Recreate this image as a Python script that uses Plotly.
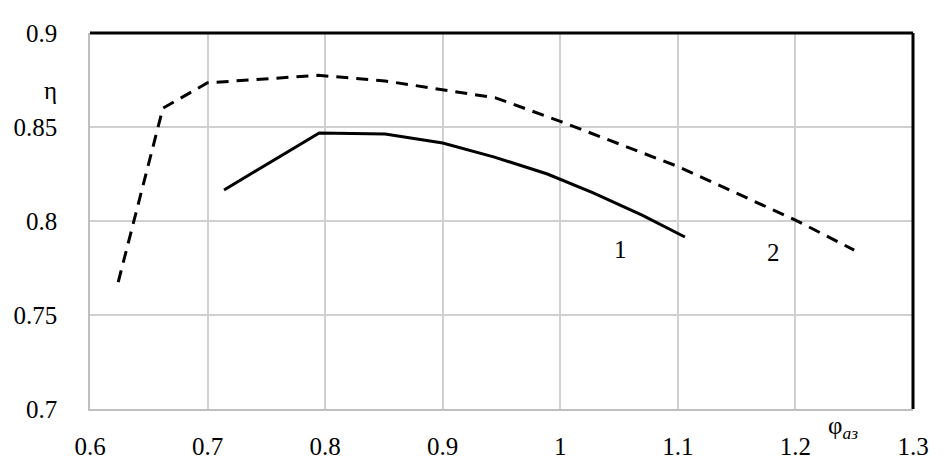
import plotly.graph_objects as go

# curve 1 (solid) and curve 2 (dashed)
phi_1 = [0.714, 0.795, 0.851, 0.900, 0.944, 0.989, 1.028, 1.070, 1.106]
eta_1 = [0.8165, 0.8468, 0.8463, 0.8415, 0.8340, 0.8250, 0.8150, 0.8030, 0.7915]

phi_2 = [0.624, 0.662, 0.700, 0.794, 0.851, 0.900, 0.945, 1.000, 1.050, 1.100, 1.200, 1.250]
eta_2 = [0.7675, 0.8600, 0.8735, 0.8775, 0.8745, 0.8700, 0.8655, 0.8530, 0.8410, 0.8290, 0.8005, 0.7845]

curve_labels = ["1", "2"]
label_pos = [(1.051, 0.7846), (1.181, 0.7835)]

font_family = "Liberation Serif"
serif = dict(family=font_family, size=25, color='black')

fig = go.Figure()
fig.add_trace(go.Scatter(x=phi_1, y=eta_1, mode='lines', name='1',
                         line=dict(color='black', width=3)))
fig.add_trace(go.Scatter(x=phi_2, y=eta_2, mode='lines', name='2',
                         line=dict(color='black', width=3, dash='12px,8px')))

for txt, (lx, ly) in zip(curve_labels, label_pos):
    fig.add_annotation(x=lx, y=ly, text=txt, showarrow=False, font=serif)

# axis names
fig.add_annotation(xref='paper', yref='paper', x=-0.058, y=0.888, text='η', showarrow=False,
                   font=dict(family=font_family, size=25, color='black'))
fig.add_annotation(xref='paper', yref='paper', x=0.936, y=-0.095, text='φ<sub><i>аз</i></sub>',
                   showarrow=False, font=dict(family=font_family, size=25, color='black'))

# black frame on top and right only
fig.add_shape(type='line', xref='paper', yref='paper', x0=0, y0=1, x1=1, y1=1,
              line=dict(color='black', width=3))
fig.add_shape(type='line', xref='paper', yref='paper', x0=1, y0=1, x1=1, y1=0,
              line=dict(color='black', width=3))

fig.update_xaxes(range=[0.6, 1.3], tickvals=[0.6, 0.7, 0.8, 0.9, 1.0, 1.1, 1.2, 1.3],
                 ticktext=['0.6', '0.7', '0.8', '0.9', '1', '1.1', '1.2', '1.3'],
                 showgrid=True, gridcolor='#d0d0d0', gridwidth=1.5,
                 showline=True, linecolor='#bfbfbf', linewidth=1.5,
                 zeroline=False, ticks='', ticklabelstandoff=14, automargin=False,
                 tickfont=serif)
fig.update_yaxes(range=[0.7, 0.9], tickvals=[0.7, 0.75, 0.8, 0.85, 0.9],
                 ticktext=['0.7', '0.75', '0.8', '0.85', '0.9'],
                 showgrid=True, gridcolor='#d0d0d0', gridwidth=1.5,
                 showline=True, linecolor='#bfbfbf', linewidth=1.5,
                 zeroline=False, ticks='', ticklabelstandoff=26, automargin=False,
                 tickfont=serif)

# page body has an 8px margin, so the figure is a bit smaller than the window
fig.update_layout(width=934, height=457, showlegend=False,
                  font=serif,
                  plot_bgcolor='white', paper_bgcolor='white',
                  margin=dict(l=82, r=29, t=25, b=56))

fig.write_html("out.html")
